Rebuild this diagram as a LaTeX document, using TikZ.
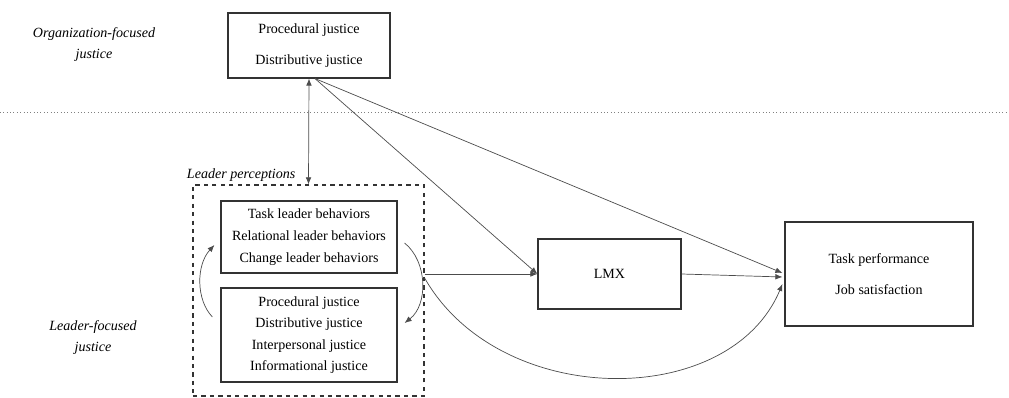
\documentclass[tikz,border=0pt]{standalone}
\usepackage{fontspec}
\setmainfont{Liberation Serif}
\usetikzlibrary{arrows.meta,calc}
\begin{document}
\begin{tikzpicture}[x=0.025cm,y=-0.025cm,
  box/.style={draw=black!80, line width=0.8pt, inner sep=0pt, align=center},
  arr/.style={draw=black!70, line width=0.5pt, -{Latex[length=5pt,width=4pt]}},
  lbl/.style={font=\itshape\fontsize{10}{15}\selectfont, align=center}]
\useasboundingbox (0,0) rectangle (1009,398);
\node[lbl] (orglbl) at (94,45){Organization-focused\\justice};
\node[lbl] (leadlbl) at (93,338){Leader-focused\\justice};
\node[box, minimum width=4.05cm, minimum height=1.625cm, font=\fontsize{10}{22}\selectfont] (org) at (309,45.5){Procedural justice\\Distributive justice};
\draw[gray, dotted] (0,112) -- (1009,112);
\node[box, dashed, minimum width=5.775cm, minimum height=5.275cm] (lead) at (308.5,290.5){};
\node[lbl, anchor=west] (perc) at (182,175){Leader perceptions};
\node[box, minimum width=4.4cm, minimum height=1.8cm, font=\fontsize{10}{15.6}\selectfont] (beh) at (309,237){Task leader behaviors\\Relational leader behaviors\\Change leader behaviors};
\node[box, minimum width=4.4cm, minimum height=2.35cm, font=\fontsize{10}{15.2}\selectfont] (jus) at (309,335){Procedural justice\\Distributive justice\\Interpersonal justice\\Informational justice};
\node[box, minimum width=3.575cm, minimum height=1.75cm, font=\fontsize{10}{12}\selectfont] (lmx) at (609.5,274){LMX};
\node[box, minimum width=4.7cm, minimum height=2.6cm, font=\fontsize{10}{22}\selectfont] (out) at (879,274){Task performance\\Job satisfaction};
\coordinate (orgfoot) at ($(org.south)+(6,0)$);
\coordinate (leadout) at (lead.east |- lmx.west);
\draw[arr, {Latex[length=5pt,width=4pt]}-{Latex[length=5pt,width=4pt]}] (org.south) -- (lead.north);
\draw[arr] (orgfoot) -- (lmx.west);
\draw[arr] (orgfoot) -- ($(out.west)+(-2,-1)$);
\draw[arr] (leadout) -- (lmx.west);
\draw[arr] (lmx.east) -- ($(out.west)+(-2,3)$);
\draw[arr] ($(leadout)+(0,4)$) .. controls (500,410) and (730,410) .. ($(out.west)+(-2,10)$);
\draw[arr] ($(jus.west)+(-8,-18)$) .. controls (196,300) and (196,265) .. ($(beh.west)+(-6,8)$);
\draw[arr] ($(beh.east)+(7,6)$) .. controls (428,262) and (428,305) .. ($(jus.east)+(7,-12)$);
\end{tikzpicture}
\end{document}
